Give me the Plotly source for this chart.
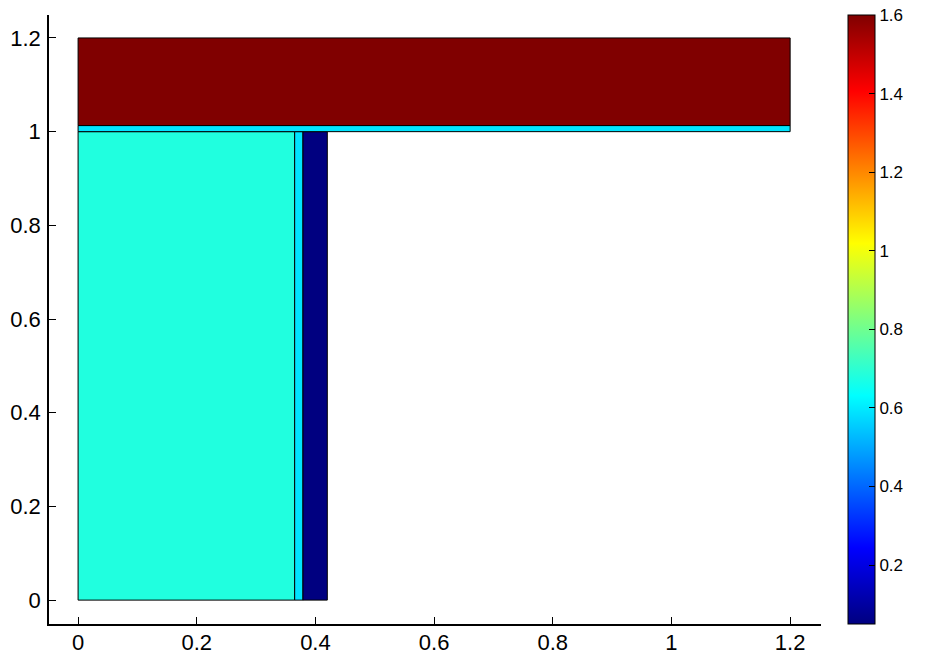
import plotly.graph_objects as go
from plotly.colors import sample_colorscale

# Patch data (rectangles): x0, x1, y0, y1, value
patch_x0 = [0.0, 0.365, 0.379, 0.0, 0.0]
patch_x1 = [0.365, 0.379, 0.42, 1.2, 1.2]
patch_y0 = [0.0, 0.0, 0.0, 1.0, 1.013]
patch_y1 = [1.0, 1.0, 1.0, 1.013, 1.2]
patch_val = [0.68, 0.59, 0.05, 0.59, 1.6]

cmin, cmax = 0.05, 1.6
x_ticks = [0, 0.2, 0.4, 0.6, 0.8, 1, 1.2]
x_ticklabels = ["0", "0.2", "0.4", "0.6", "0.8", "1", "1.2"]
y_ticks = [0, 0.2, 0.4, 0.6, 0.8, 1, 1.2]
y_ticklabels = ["0", "0.2", "0.4", "0.6", "0.8", "1", "1.2"]
cb_ticks = [0.2, 0.4, 0.6, 0.8, 1.0, 1.2, 1.4, 1.6]
cb_ticklabels = ["0.2", "0.4", "0.6", "0.8", "1", "1.2", "1.4", "1.6"]

jet = [
    [0.0, "rgb(0,0,128)"],
    [0.125, "rgb(0,0,255)"],
    [0.375, "rgb(0,255,255)"],
    [0.625, "rgb(255,255,0)"],
    [0.875, "rgb(255,0,0)"],
    [1.0, "rgb(128,0,0)"],
]

fig = go.Figure()
for x0, x1, y0, y1, v in zip(patch_x0, patch_x1, patch_y0, patch_y1, patch_val):
    frac = (v - cmin) / (cmax - cmin)
    col = sample_colorscale(jet, [min(max(frac, 0), 1)])[0]
    fig.add_trace(go.Scatter(
        x=[x0, x1, x1, x0, x0], y=[y0, y0, y1, y1, y0],
        mode="lines", fill="toself", fillcolor=col,
        line=dict(color="black", width=1),
        hoverinfo="skip", showlegend=False,
    ))

# colorbar carrier
fig.add_trace(go.Scatter(
    x=[None], y=[None], mode="markers", showlegend=False,
    marker=dict(
        color=[cmin], cmin=cmin, cmax=cmax, colorscale=jet, showscale=True,
        colorbar=dict(
            x=1.035, xanchor="left", xref="paper",
            y=1.0, yanchor="top", len=1.0, lenmode="fraction",
            thickness=27, thicknessmode="pixels",
            outlinecolor="black", outlinewidth=1,
            ticks="inside", ticklen=6, tickcolor="black",
            tickvals=cb_ticks, ticktext=cb_ticklabels,
            tickfont=dict(family="Liberation Sans, Arial, sans-serif", size=17, color="black"),
            xpad=0, ypad=0,
        ),
    ),
))

axis_font = dict(family="Liberation Sans Narrow, sans-serif", size=22, color="black")
fig.update_layout(
    width=932, height=654,
    margin=dict(l=49, r=111, t=15, b=30, autoexpand=False),
    plot_bgcolor="white", paper_bgcolor="white",
    xaxis=dict(range=[-0.049, 1.252], showgrid=False, zeroline=False, automargin=False,
               showline=True, linecolor="black", linewidth=1.5,
               ticks="inside", ticklen=7, tickcolor="black", ticklabelstandoff=-2,
               tickvals=x_ticks, ticktext=x_ticklabels, tickfont=axis_font),
    yaxis=dict(range=[-0.051, 1.249], showgrid=False, zeroline=False, automargin=False,
               showline=True, linecolor="black", linewidth=1.5,
               ticks="inside", ticklen=7, tickcolor="black", ticklabelstandoff=2,
               tickvals=y_ticks, ticktext=y_ticklabels, tickfont=axis_font),
)

fig.write_html("out.html")
